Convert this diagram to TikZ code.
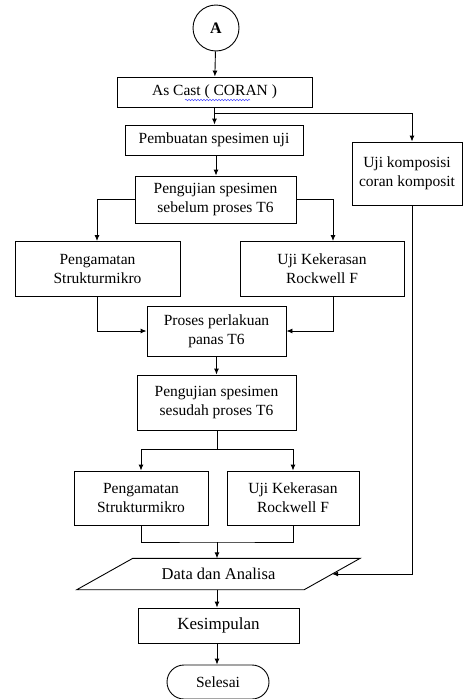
\documentclass[tikz,border=0pt]{standalone}
\usepackage{fontspec}
\setmainfont{Liberation Serif}
\usetikzlibrary{arrows.meta,decorations.pathmorphing,shapes.misc}
\begin{document}
\begin{tikzpicture}[x=1pt,y=-1pt,
  every node/.style={font=\fontsize{15.5}{19}\selectfont, align=center, inner sep=0pt},
  box/.style={draw, line width=0.9pt, rectangle},
  conn/.style={line width=0.9pt},
  arr/.style={line width=0.9pt, -{Latex[length=6pt,width=5pt]}}]
\useasboundingbox (0,0) rectangle (463,699);
\node[draw, circle, line width=0.9pt, minimum size=46pt, font=\fontsize{16}{19}\selectfont\bfseries] (A) at (216,28) {A};
\node[box, minimum width=195pt, minimum height=30pt] (cast) at (214.5,92) {As Cast ( CORAN )};
\node[box, minimum width=178pt, minimum height=30pt] (buat) at (214,140) {Pembuatan spesimen uji};
\node[box, minimum width=161pt, minimum height=47pt] (uji1) at (215.5,199.5) {Pengujian spesimen\\sebelum proses T6};
\node[box, minimum width=110pt, minimum height=63pt] (komp) at (407,173.5) {Uji komposisi\\coran komposit};
\node[box, minimum width=165pt, minimum height=55pt] (amat1) at (97.5,268.5) {Pengamatan\\Strukturmikro};
\node[box, minimum width=164pt, minimum height=55pt] (keras1) at (322,268.5) {Uji Kekerasan\\Rockwell F};
\node[box, minimum width=139pt, minimum height=50pt] (panas) at (216.5,331) {Proses perlakuan\\panas T6};
\node[box, minimum width=159pt, minimum height=55pt] (uji2) at (216.5,402.5) {Pengujian spesimen\\sesudah proses T6};
\node[box, minimum width=134pt, minimum height=54pt] (amat2) at (141,498) {Pengamatan\\Strukturmikro};
\node[box, minimum width=132pt, minimum height=54pt] (keras2) at (293,498) {Uji Kekerasan\\Rockwell F};
\node[minimum width=227pt, minimum height=31pt, font=\fontsize{16.5}{20}\selectfont] (data) at (218.5,574) {Data dan Analisa};
\draw[line width=0.9pt] ([xshift=28pt]data.north west) -- ([xshift=28pt]data.north east) -- ([xshift=-28pt]data.south east) -- ([xshift=-28pt]data.south west) -- cycle;
\node[box, minimum width=161pt, minimum height=35pt, font=\fontsize{17}{20}\selectfont] (kes) at (218.5,625.5) {Kesimpulan};
\node[draw, line width=0.9pt, rounded rectangle, minimum width=102pt, minimum height=34pt] (sel) at (218,682) {Selesai};
% spell-check squiggle
\coordinate (sq1) at (185,100);
\coordinate (sq2) at (250,100);
\draw[blue!70, line width=0.5pt, decorate, decoration={snake, amplitude=0.8pt, segment length=3pt}] (sq1) -- (sq2);
% connectors
\draw[arr] (A) -- (cast);
\draw[arr] (cast.south) -- (buat.north -| cast.south);
\coordinate (br1) at (412,113);
\draw[arr] (cast.south |- br1) -- (br1) -- (br1 |- komp.north);
\draw[arr] (buat.south -| 216,0) -- (uji1.north -| 216,0);
\draw[arr] (uji1.west) -| (97,241);
\draw[arr] (uji1.east) -| (333,241);
\draw[arr] (amat1.south) |- (panas.west);
\draw[arr] (keras1.south -| 333,0) |- (panas.east);
\draw[arr] (panas) -- (uji2);
\coordinate (sp) at (217,449);
\draw[conn] (uji2.south -| sp) -- (sp);
\draw[arr] (sp) -| (amat2.north);
\draw[arr] (sp) -| (keras2.north);
\coordinate (jn) at (217,542);
\draw[conn] (amat2.south) |- (jn) -| (keras2.south);
\draw[arr] (jn) -- (data.north -| jn);
\draw[arr] (komp.south -| br1) |- (data.east);
\draw[arr] (data.south -| jn) -- (kes.north -| jn);
\draw[arr] (kes.south -| jn) -- (sel.north -| jn);
\end{tikzpicture}
\end{document}
